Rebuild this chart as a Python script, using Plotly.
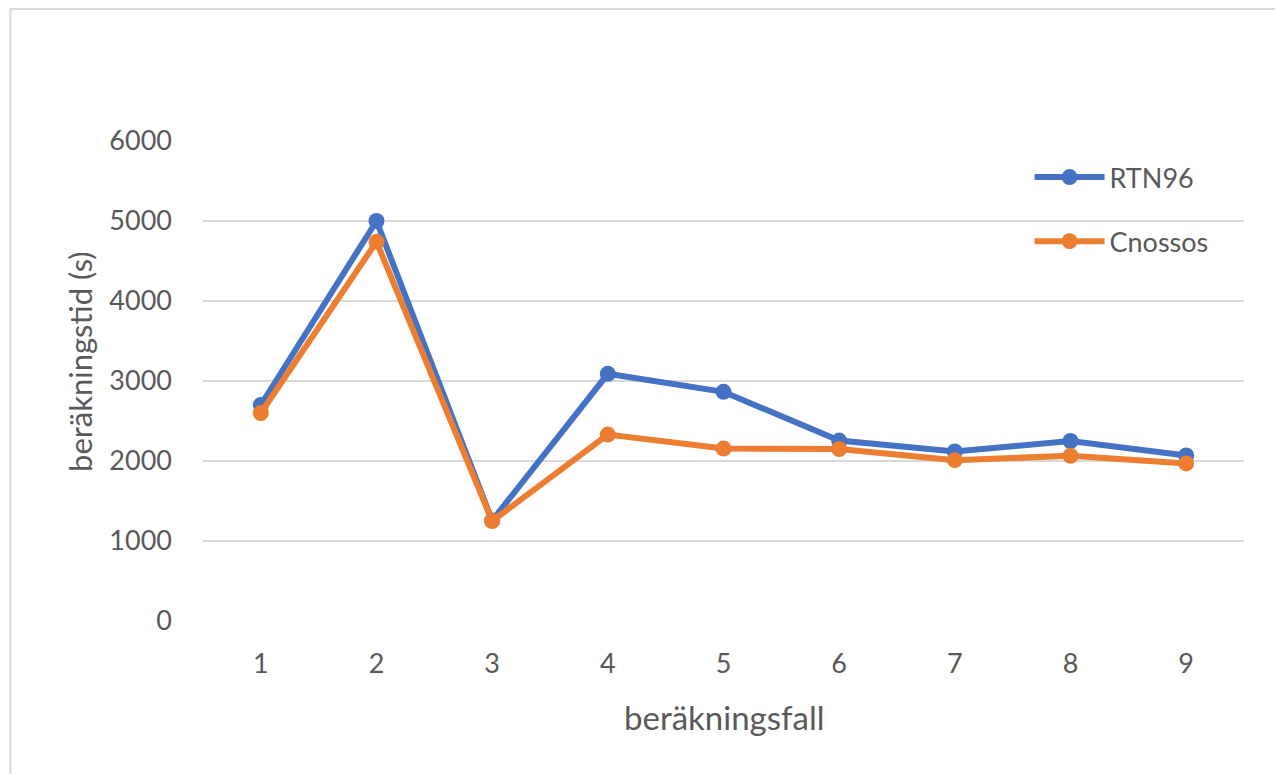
import plotly.graph_objects as go

# Beräkningstid per beräkningsfall för de två metoderna
cases = [1, 2, 3, 4, 5, 6, 7, 8, 9]
rtn96 = [2700, 5000, 1255, 3090, 2865, 2255, 2120, 2250, 2070]
cnossos = [2600, 4740, 1250, 2330, 2155, 2150, 2010, 2065, 1970]
y_ticks = [0, 1000, 2000, 3000, 4000, 5000, 6000]

BLUE = "#4472C4"
ORANGE = "#ED7D31"
GRID = "#D9D9D9"
TEXT = "#595959"
FONT = "Lato"

fig = go.Figure()
fig.add_trace(go.Scatter(
    x=cases, y=rtn96, name="RTN96", mode="lines+markers", legendgroup="a",
    line=dict(color=BLUE, width=6), marker=dict(color=BLUE, size=16),
))
fig.add_trace(go.Scatter(
    x=cases, y=cnossos, name="Cnossos", mode="lines+markers", legendgroup="b",
    line=dict(color=ORANGE, width=6), marker=dict(color=ORANGE, size=16),
))

fig.update_layout(
    width=1275, height=774,
    margin=dict(l=203, r=31, t=141, b=153),
    paper_bgcolor="white", plot_bgcolor="white",
    font=dict(family=FONT, size=27, color=TEXT),
    showlegend=True,
    legend=dict(
        x=0.794, xanchor="left", y=0.975, yanchor="top",
        bgcolor="rgba(0,0,0,0)", font=dict(size=27, color=TEXT),
        itemwidth=70, tracegroupgap=26,
    ),
    xaxis=dict(
        range=[0.5, 9.5], tickmode="array", tickvals=cases,
        ticktext=[str(c) for c in cases],
        showgrid=False, zeroline=False, showline=False,
        ticks="", ticklabelstandoff=24,
        tickfont=dict(size=27, color=TEXT),
    ),
    yaxis=dict(
        range=[0, 6000], tickmode="array", tickvals=y_ticks,
        ticktext=[str(v) for v in y_ticks],
        showgrid=True, gridcolor=GRID, gridwidth=2,
        zeroline=False, showline=False,
        ticks="", ticklabelstandoff=30,
        tickfont=dict(size=27, color=TEXT),
    ),
    annotations=[
        dict(text="beräkningsfall", xref="paper", yref="paper",
             x=0.5, y=-0.2, xanchor="center", yanchor="middle",
             showarrow=False, font=dict(size=33, color=TEXT)),
        dict(text="beräkningstid (s)", xref="paper", yref="paper",
             x=-0.118, y=0.54, xanchor="center", yanchor="middle",
             textangle=-90, showarrow=False, font=dict(size=31, color=TEXT)),
    ],
    shapes=[
        dict(type="rect", xref="paper", yref="paper",
             x0=-0.185, x1=1.2, y0=-0.6, y1=1.275,
             line=dict(color=GRID, width=2), fillcolor="rgba(0,0,0,0)",
             layer="below"),
    ],
)

fig.write_html("out.html")
